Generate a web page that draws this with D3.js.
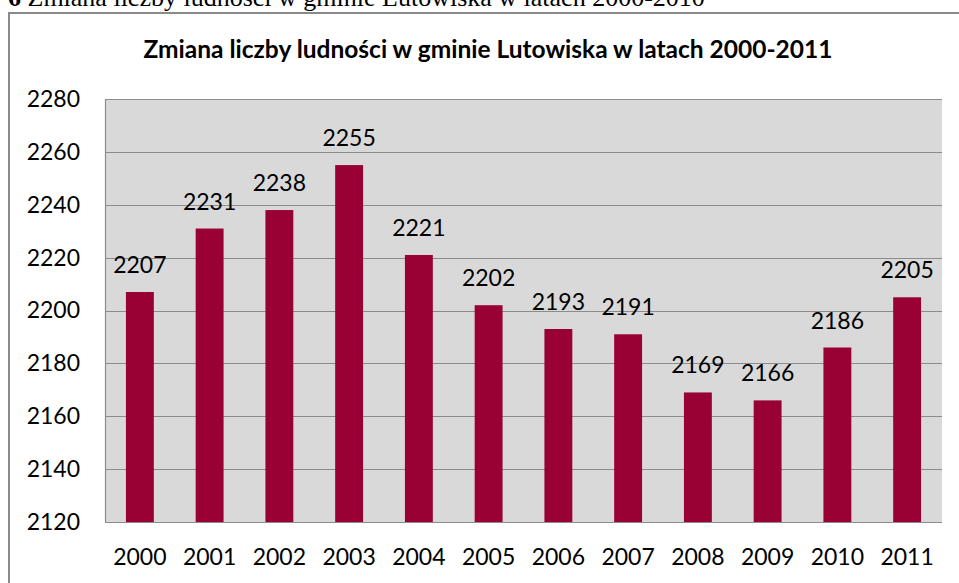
<!DOCTYPE html>
<html>
<head>
<meta charset="utf-8">
<script src="https://cdn.jsdelivr.net/npm/d3@7"></script>
<style>
  body { margin: 0; background: #fff; }
  svg { display: block; }
</style>
</head>
<body>
<div id="chart"></div>
<script>
// data
const years  = ["2000","2001","2002","2003","2004","2005","2006","2007","2008","2009","2010","2011"];
const values = [2207, 2231, 2238, 2255, 2221, 2202, 2193, 2191, 2169, 2166, 2186, 2205];
const yTicks = [2120, 2140, 2160, 2180, 2200, 2220, 2240, 2260, 2280];
const chartTitle = "Zmiana liczby ludności w gminie Lutowiska w latach 2000-2011";
const captionNum = "6";
const captionText = " Zmiana liczby ludności w gminie Lutowiska w latach 2000-2010";

var width = 959,
    height = 583;

// plot area
var plot = {left: 105, top: 99, right: 942, bottom: 522};

var svg = d3.select("#chart")
    .append("svg")
        .attr("width", width)
        .attr("height", height);

// caption of the document, cut off at top (as in the scan)
var cap = svg.append("text")
    .attr("x", 8)
    .attr("y", 6)
    .attr("font-family", "'Liberation Serif', 'Times New Roman', serif")
    .attr("font-size", 26)
    .attr("fill", "#000");
cap.append("tspan").attr("font-weight", "bold").text(captionNum);
cap.append("tspan").text(captionText);

// outer chart frame
svg.append("rect")
    .attr("x", 9)
    .attr("y", 13)
    .attr("width", 970)
    .attr("height", 600)
    .attr("fill", "#fff")
    .attr("stroke", "#8a8a8a")
    .attr("stroke-width", 2);

// title
svg.append("text")
    .attr("x", 488)
    .attr("y", 58)
    .attr("text-anchor", "middle")
    .attr("font-family", "Lato, 'Open Sans', sans-serif")
    .attr("font-weight", "bold")
    .attr("font-size", 24.5)
    .attr("fill", "#000")
    .text(chartTitle);

var x = d3.scaleBand()
    .domain(years)
    .range([plot.left, plot.right])
    .paddingInner(0.6)
    .paddingOuter(0.3);

var y = d3.scaleLinear()
    .domain([yTicks[0], yTicks[yTicks.length - 1]])
    .range([plot.bottom, plot.top]);

// plot background
svg.append("rect")
    .attr("x", plot.left)
    .attr("y", plot.top)
    .attr("width", plot.right - plot.left)
    .attr("height", plot.bottom - plot.top)
    .attr("fill", "#d9d9d9");

// gridlines
svg.append("g")
    .selectAll("line")
    .data(yTicks)
    .enter()
    .append("line")
        .attr("x1", plot.left)
        .attr("x2", plot.right)
        .attr("y1", d => Math.round(y(d)) + 0.5)
        .attr("y2", d => Math.round(y(d)) + 0.5)
        .attr("stroke", "#8c8c8c")
        .attr("stroke-width", 1.2);

// left border of plot area
svg.append("line")
    .attr("x1", plot.left + 0.5)
    .attr("x2", plot.left + 0.5)
    .attr("y1", plot.top)
    .attr("y2", plot.bottom)
    .attr("stroke", "#8c8c8c")
    .attr("stroke-width", 1.2);

// bars
svg.append("g")
    .selectAll("rect")
    .data(values)
    .enter()
    .append("rect")
        .attr("x", (d, i) => x(years[i]))
        .attr("y", d => y(d))
        .attr("width", x.bandwidth())
        .attr("height", d => y(yTicks[0]) - y(d))
        .attr("fill", "#990033");

// value labels
svg.append("g")
    .selectAll("text")
    .data(values)
    .enter()
    .append("text")
        .attr("x", (d, i) => x(years[i]) + x.bandwidth() / 2)
        .attr("y", d => y(d) - 19)
        .attr("text-anchor", "middle")
        .attr("font-family", "Lato, 'Open Sans', sans-serif")
        .attr("font-size", 23)
        .attr("fill", "#000")
        .text(d => d);

// y axis
var yAxis = svg.append("g")
    .attr("transform", `translate(${plot.left},0)`)
    .call(d3.axisLeft(y).tickValues(yTicks).tickSize(0).tickPadding(25).tickFormat(d3.format("d")));
yAxis.select(".domain").remove();
yAxis.selectAll("text")
    .attr("font-family", "Lato, 'Open Sans', sans-serif")
    .attr("font-size", 23)
    .attr("fill", "#000");

// x axis
var xAxis = svg.append("g")
    .attr("transform", `translate(0,${plot.bottom})`)
    .call(d3.axisBottom(x).tickSize(0).tickPadding(27));
xAxis.select(".domain").remove();
xAxis.selectAll("text")
    .attr("font-family", "Lato, 'Open Sans', sans-serif")
    .attr("font-size", 23)
    .attr("fill", "#000");
</script>
</body>
</html>
